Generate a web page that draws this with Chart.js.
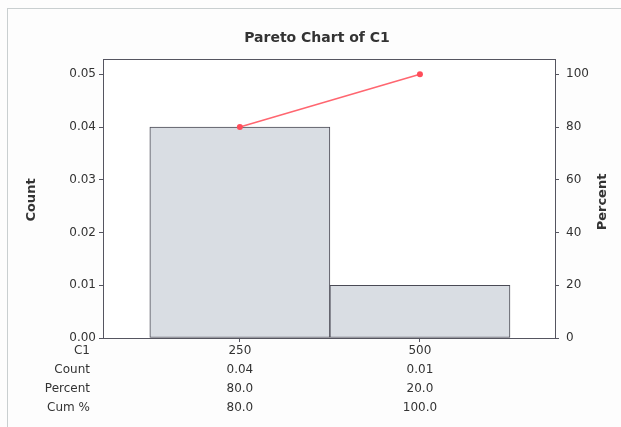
<!DOCTYPE html>
<html>
<head>
<meta charset="utf-8">
<script src="https://cdn.jsdelivr.net/npm/chart.js@4"></script>
<style>
  body { margin: 0; background: #fff; }
  canvas { display: block; }
</style>
</head>
<body>
<canvas id="pareto" width="621" height="427"></canvas>
<script>
const categories = ['250', '500'];
const counts = [0.04, 0.01];
const percents = [80.0, 20.0];
const cumPercents = [80.0, 100.0];
const countTicks = [0, 0.01, 0.02, 0.03, 0.04, 0.05];
const percentTicks = [0, 20, 40, 60, 80, 100];
const rowNames = ['C1', 'Count', 'Percent', 'Cum %'];

const textColor = '#333333';
const axisColor = '#555560';

// frame, plot box, titles and the table under the chart
const paretoDecor = {
  id: 'paretoDecor',
  beforeDraw(chart) {
    const ctx = chart.ctx;
    ctx.save();
    ctx.fillStyle = '#fdfdfd';
    ctx.fillRect(0, 0, chart.width, chart.height);
    ctx.strokeStyle = '#c9cfd0';
    ctx.lineWidth = 1;
    ctx.strokeRect(7.5, 8.5, 700, 500);
    const a = chart.chartArea;
    ctx.fillStyle = '#ffffff';
    ctx.fillRect(a.left, a.top, a.right - a.left, a.bottom - a.top);
    ctx.restore();
  },
  afterDraw(chart) {
    const ctx = chart.ctx;
    const a = chart.chartArea;
    const x = chart.scales.x;
    ctx.save();
    ctx.strokeStyle = axisColor;
    ctx.lineWidth = 1;
    ctx.strokeRect(Math.round(a.left) + 0.5, Math.round(a.top) + 0.5,
      Math.round(a.right - a.left), Math.round(a.bottom - a.top));

    ctx.fillStyle = textColor;
    ctx.textBaseline = 'middle';
    ctx.textAlign = 'center';
    ctx.font = 'bold 14px "DejaVu Sans"';
    ctx.fillText('Pareto Chart of C1', 317, 38);

    ctx.font = 'bold 13px "DejaVu Sans"';
    ctx.save();
    ctx.translate(32, 200);
    ctx.rotate(-Math.PI / 2);
    ctx.fillText('Count', 0, 0);
    ctx.restore();
    ctx.save();
    ctx.translate(603, 202);
    ctx.rotate(-Math.PI / 2);
    ctx.fillText('Percent', 0, 0);
    ctx.restore();

    ctx.font = '12px "DejaVu Sans"';
    const rowY = [351, 370, 389, 408];
    const rows = [
      categories,
      counts.map(v => v.toFixed(2)),
      percents.map(v => v.toFixed(1)),
      cumPercents.map(v => v.toFixed(1))
    ];
    rowNames.forEach((name, r) => {
      ctx.textAlign = 'right';
      ctx.fillText(name, 90, rowY[r]);
      ctx.textAlign = 'center';
      rows[r].forEach((val, i) => {
        ctx.fillText(val, x.getPixelForValue(i + 1), rowY[r]);
      });
    });
    ctx.restore();
  }
};

new Chart(document.getElementById('pareto'), {
  data: {
    datasets: [
      {
        type: 'line',
        data: cumPercents.map((v, i) => ({ x: i + 1, y: v })),
        yAxisID: 'y2',
        borderColor: '#ff6670',
        backgroundColor: '#ff4d5a',
        borderWidth: 1.5,
        pointRadius: 3,
        pointBorderWidth: 0,
        tension: 0
      },
      {
        type: 'bar',
        data: counts.map((v, i) => ({ x: i + 1, y: v })),
        yAxisID: 'y',
        backgroundColor: '#d9dde3',
        borderColor: '#4a4a55',
        borderWidth: 1,
        borderSkipped: false,
        categoryPercentage: 1,
        barPercentage: 1
      }
    ]
  },
  options: {
    responsive: false,
    animation: false,
    layout: { padding: { top: 59, left: 0, right: 0, bottom: 0 } },
    plugins: {
      legend: { display: false },
      tooltip: { enabled: false }
    },
    scales: {
      x: {
        type: 'linear',
        offset: false,
        min: 0.24,
        max: 2.75,
        afterBuildTicks: s => { s.ticks = categories.map((c, i) => ({ value: i + 1 })); },
        afterFit: s => { s.height = 89; },
        ticks: { display: false },
        grid: { offset: false, drawOnChartArea: false, tickLength: 4, color: axisColor },
        border: { color: axisColor }
      },
      y: {
        position: 'left',
        min: 0,
        max: 0.0529,
        afterBuildTicks: s => { s.ticks = countTicks.map(v => ({ value: v })); },
        afterFit: s => { s.width = 103; },
        ticks: {
          color: textColor,
          padding: 3,
          font: { family: 'DejaVu Sans', size: 12 },
          callback: v => v.toFixed(2)
        },
        grid: { drawOnChartArea: false, tickLength: 4, color: axisColor },
        border: { color: axisColor }
      },
      y2: {
        position: 'right',
        min: 0,
        max: 105.8,
        afterBuildTicks: s => { s.ticks = percentTicks.map(v => ({ value: v })); },
        afterFit: s => { s.width = 66; },
        ticks: {
          color: textColor,
          padding: 7,
          font: { family: 'DejaVu Sans', size: 12 },
          callback: v => String(v)
        },
        grid: { drawOnChartArea: false, tickLength: 4, color: axisColor },
        border: { color: axisColor }
      }
    }
  },
  plugins: [paretoDecor]
});
</script>
</body>
</html>
